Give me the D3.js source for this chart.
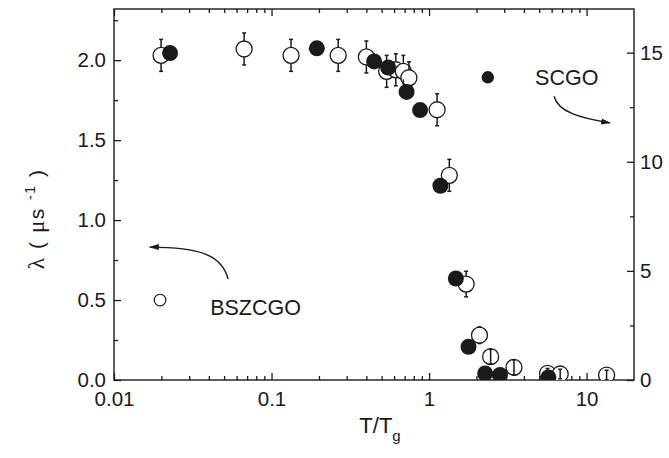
<!DOCTYPE html>
<html lang="en">
<head>
<meta charset="UTF-8">
<title>lambda vs T/Tg</title>
<script src="https://cdn.jsdelivr.net/npm/d3@7"></script>
<style>
    html, body { margin: 0; padding: 0; background: #fff; }
    .axis text { font-family: "Liberation Sans", Arial, sans-serif; font-size: 20.5px; fill: #1a1a1a; }
    .axis line { stroke: #1a1a1a; stroke-width: 1.3; }
    .axis path { display: none; }
    .lbl { font-family: "Liberation Sans", Arial, sans-serif; fill: #1a1a1a; }
</style>
</head>
<body>
<div id="chart"></div>
<script>
    // BSZCGO (open circles, left axis)
    var bszT = [0.0199, 0.067, 0.133, 0.265, 0.40, 0.538, 0.615, 0.687, 0.745, 1.125, 1.345, 1.72, 2.09, 2.46, 3.46, 5.65, 6.8, 13.4];
    var bszLam = [2.03, 2.07, 2.03, 2.03, 2.02, 1.93, 1.94, 1.93, 1.89, 1.69, 1.28, 0.60, 0.28, 0.146, 0.079, 0.042, 0.0375, 0.031];
    var bszErr = [0.1, 0.1, 0.1, 0.1, 0.1, 0.1, 0.1, 0.1, 0.1, 0.1, 0.1, 0.08, 0.052, 0.045, 0.047, 0.03, 0.03, 0.03];

    // SCGO (filled circles, right axis)
    var scgoT = [0.0227, 0.194, 0.448, 0.55, 0.72, 0.877, 1.18, 1.48, 1.78, 2.27, 2.82, 5.72];
    var scgoLam = [14.98, 15.2, 14.6, 14.32, 13.2, 12.37, 8.9, 4.65, 1.52, 0.30, 0.23, 0.12];

    var xMajor = [0.01, 0.1, 1, 10];
    var yLeftTicks = [0, 0.5, 1.0, 1.5, 2.0];
    var yRightTicks = [0, 5, 10, 15];

    var margin = {top: 9, right: 35, bottom: 78, left: 114},
        width = 669 - margin.left - margin.right,
        height = 458 - margin.top - margin.bottom;

    var x = d3.scaleLog().domain([0.01, 20]).range([0, width]);
    var y = d3.scaleLinear().domain([0, 2.32]).range([height, 0]);
    var y2 = d3.scaleLinear().domain([0, 17]).range([height, 0]);

    var xMinor = [];
    [0.01, 0.1, 1, 10].forEach(function(d){
        for (var k = 2; k <= 9; k++) { if (d * k < 20) xMinor.push(d * k); }
    });

    var svg = d3.select("#chart").append("svg")
        .attr("width", 669)
        .attr("height", 458)
        .append("g")
        .attr("transform", "translate(" + margin.left + "," + margin.top + ")");

    var defs = svg.append("defs");
    defs.append("clipPath").attr("id", "clip")
        .append("rect").attr("width", width).attr("height", height);
    defs.append("marker")
        .attr("id", "arrow")
        .attr("viewBox", "0 -4 10 8")
        .attr("refX", 9).attr("refY", 0)
        .attr("markerUnits", "userSpaceOnUse")
        .attr("markerWidth", 10).attr("markerHeight", 8)
        .attr("orient", "auto")
        .append("path").attr("d", "M0,-3L10,0L0,3Z").attr("fill", "#1a1a1a");

    // axes (ticks inside)
    svg.append("g").attr("class", "axis")
        .attr("transform", "translate(0," + height + ")")
        .call(d3.axisBottom(x).tickValues(xMajor).tickSize(-7).tickPadding(11)
            .tickFormat(function(d){ return String(d); }));
    svg.append("g").attr("class", "axis")
        .attr("transform", "translate(0," + height + ")")
        .call(d3.axisBottom(x).tickValues(xMinor).tickSize(-4).tickFormat(""));
    svg.append("g").attr("class", "axis")
        .call(d3.axisTop(x).tickValues(xMajor).tickSize(-7).tickFormat(""));
    svg.append("g").attr("class", "axis")
        .call(d3.axisTop(x).tickValues(xMinor).tickSize(-4).tickFormat(""));

    svg.append("g").attr("class", "axis")
        .call(d3.axisLeft(y).tickValues(yLeftTicks).tickSize(-7).tickPadding(8).tickFormat(d3.format(".1f")));
    svg.append("g").attr("class", "axis")
        .call(d3.axisLeft(y).tickValues([0.25, 0.75, 1.25, 1.75, 2.25]).tickSize(-4).tickFormat(""));

    svg.append("g").attr("class", "axis")
        .attr("transform", "translate(" + width + ",0)")
        .call(d3.axisRight(y2).tickValues(yRightTicks).tickSize(-7).tickPadding(6).tickFormat(d3.format("d")));
    svg.append("g").attr("class", "axis")
        .attr("transform", "translate(" + width + ",0)")
        .call(d3.axisRight(y2).tickValues([2.5, 7.5, 12.5]).tickSize(-4).tickFormat(""));

    svg.append("rect")
        .attr("width", width).attr("height", height)
        .attr("fill", "none").attr("stroke", "#1a1a1a").attr("stroke-width", 1.4);

    // data
    var r = 8;
    var plot = svg.append("g").attr("clip-path", "url(#clip)");

    var bsz = bszT.map(function(t, i){ return {t: t, v: bszLam[i], e: bszErr[i]}; });
    var scgo = scgoT.map(function(t, i){ return {t: t, v: scgoLam[i]}; });

    plot.selectAll("circle.open").data(bsz).enter().append("circle")
        .attr("class", "open")
        .attr("cx", function(d){ return x(d.t); })
        .attr("cy", function(d){ return y(d.v); })
        .attr("r", r)
        .attr("fill", "#fff")
        .attr("stroke", "#1a1a1a")
        .attr("stroke-width", 1.3);

    var eb = plot.append("g").attr("stroke", "#1a1a1a").attr("stroke-width", 1.5);
    bsz.forEach(function(d){
        var cx = x(d.t), cy = y(d.v), top = y(d.v + d.e), bot = y(d.v - d.e);
        if (bot - top > 2 * r) {
            eb.append("line").attr("x1", cx).attr("x2", cx).attr("y1", top).attr("y2", cy - r);
            eb.append("line").attr("x1", cx).attr("x2", cx).attr("y1", cy + r).attr("y2", bot);
        } else {
            eb.append("line").attr("x1", cx).attr("x2", cx).attr("y1", top).attr("y2", bot);
        }
        eb.append("line").attr("x1", cx - 2).attr("x2", cx + 2).attr("y1", top).attr("y2", top);
        eb.append("line").attr("x1", cx - 2).attr("x2", cx + 2).attr("y1", bot).attr("y2", bot);
    });

    plot.selectAll("circle.fill").data(scgo).enter().append("circle")
        .attr("class", "fill")
        .attr("cx", function(d){ return x(d.t); })
        .attr("cy", function(d){ return y2(d.v); })
        .attr("r", r)
        .attr("fill", "#1a1a1a");

    // legends with arrows
    svg.append("circle")
        .attr("cx", x(0.0196)).attr("cy", y(0.5)).attr("r", 5.8)
        .attr("fill", "#fff").attr("stroke", "#1a1a1a").attr("stroke-width", 1.2);
    svg.append("text").attr("class", "lbl")
        .attr("x", x(0.0408)).attr("y", y(0.406))
        .attr("font-size", 21.5).text("BSZCGO");
    svg.append("path")
        .attr("d", "M" + x(0.053) + "," + y(0.631) +
            "C" + x(0.0485) + "," + y(0.781) + " " + x(0.0351) + "," + y(0.831) + " " + x(0.0169) + "," + y(0.831))
        .attr("fill", "none").attr("stroke", "#1a1a1a").attr("stroke-width", 1.4)
        .attr("marker-end", "url(#arrow)");

    svg.append("circle")
        .attr("cx", x(2.36)).attr("cy", y2(13.87)).attr("r", 6.2)
        .attr("fill", "#1a1a1a");
    svg.append("text").attr("class", "lbl")
        .attr("x", x(4.71)).attr("y", y2(13.52))
        .attr("font-size", 21.5).text("SCGO");
    svg.append("path")
        .attr("d", "M" + x(6.22) + "," + y2(13.0) +
            "C" + x(6.59) + "," + y2(12.28) + " " + x(9.1) + "," + y2(12.0) + " " + x(14.1) + "," + y2(11.78))
        .attr("fill", "none").attr("stroke", "#1a1a1a").attr("stroke-width", 1.4)
        .attr("marker-end", "url(#arrow)");

    // axis titles
    var xt = svg.append("text").attr("class", "lbl")
        .attr("x", 266).attr("y", 424)
        .attr("text-anchor", "middle")
        .attr("font-size", 22);
    xt.append("tspan").text("T/T");
    xt.append("tspan").attr("font-size", 15).attr("dy", 8).text("g");

    var yt = svg.append("text").attr("class", "lbl")
        .attr("transform", "translate(-70," + 210 + ") rotate(-90)")
        .attr("text-anchor", "middle")
        .attr("font-size", 21)
        .attr("letter-spacing", 1.5);
    yt.append("tspan").attr("font-family", "Liberation Serif, serif").attr("font-size", 24).text("λ");
    yt.append("tspan").text(" ( ");
    yt.append("tspan").attr("font-family", "Liberation Serif, serif").attr("font-size", 23).text("μ");
    yt.append("tspan").text("s ");
    yt.append("tspan").attr("font-size", 14).attr("dy", -9).text("-1");
    yt.append("tspan").attr("dy", 9).text(" )");
</script>
</body>
</html>
